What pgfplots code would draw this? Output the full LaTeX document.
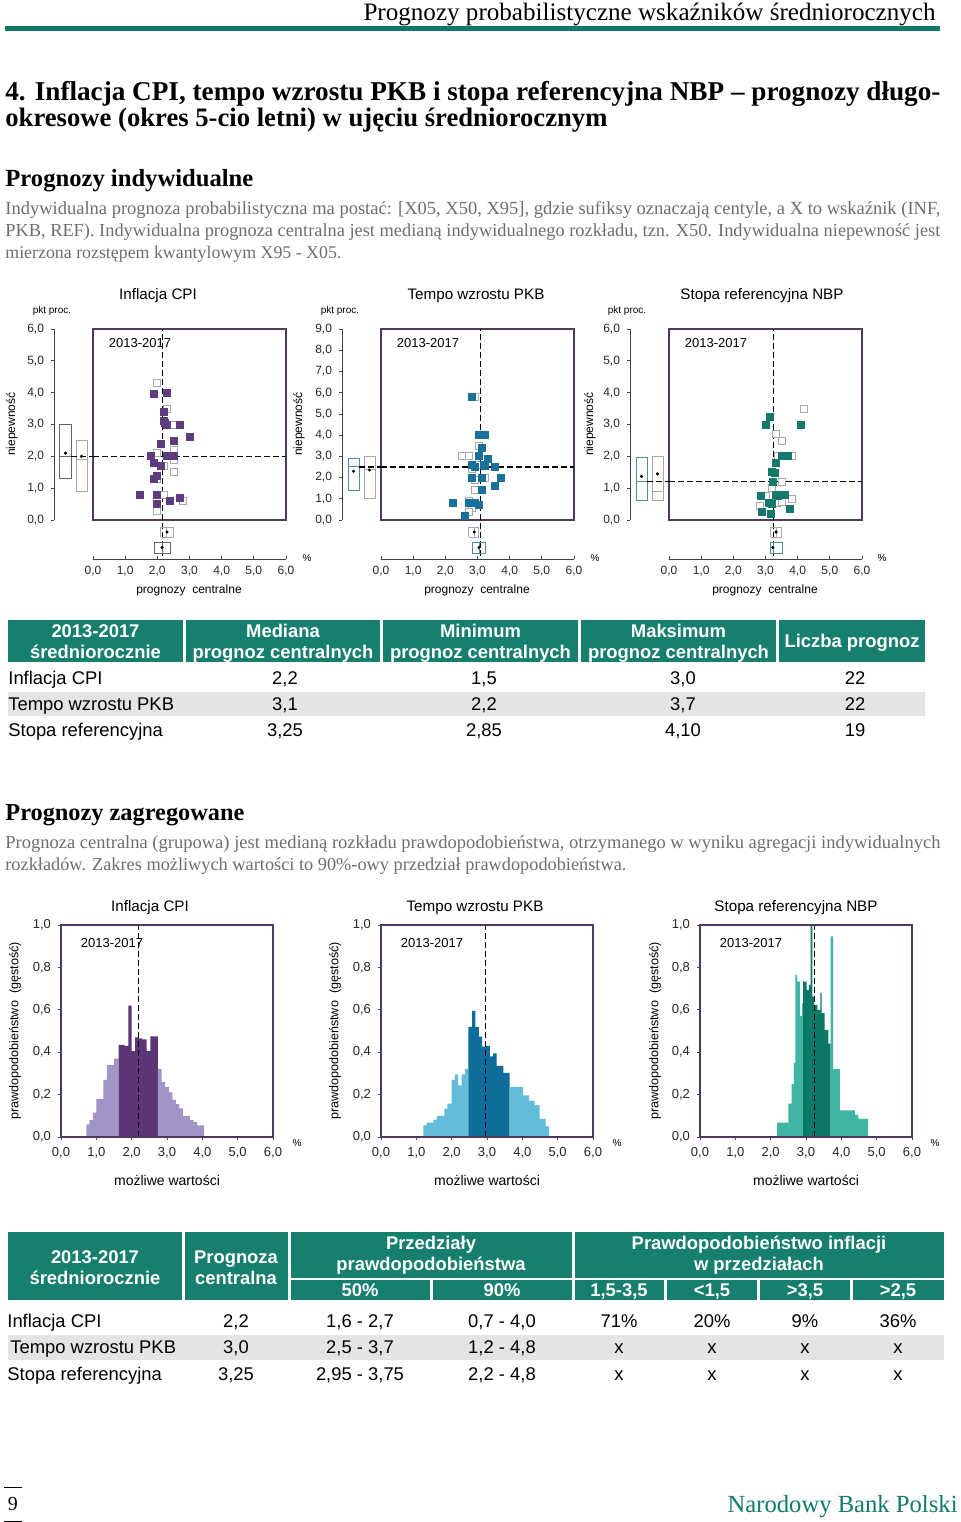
\documentclass[border=0pt]{standalone}
\usepackage{pgfplots}
\pgfplotsset{compat=1.18}
\usepackage{fontspec}
\usepackage{graphicx}
\setmainfont{Liberation Sans}
\newfontfamily\serif{Liberation Serif}
\newcommand\fs[1]{\fontsize{#1}{#1}\selectfont}

\definecolor{nbp}{HTML}{0F7A68}
\definecolor{hdr}{HTML}{167F6D}
\definecolor{rowgray}{HTML}{E4E4E4}
\definecolor{paragray}{HTML}{6E6E6E}
\definecolor{frame}{HTML}{4F3B5C}
\definecolor{cpiD}{HTML}{5C3677}
\definecolor{cpiL}{HTML}{A294C6}
\definecolor{pkbD}{HTML}{0E6D9A}
\definecolor{pkbL}{HTML}{63BDD8}
\definecolor{refD}{HTML}{0D7866}
\definecolor{refL}{HTML}{3FB6A1}
\definecolor{cpiS}{HTML}{5D3D7D}
\definecolor{pkbS}{HTML}{19709A}
\definecolor{refS}{HTML}{16796B}
\definecolor{cpiB}{HTML}{6A5E76}
\definecolor{pkbB}{HTML}{4C8DAA}
\definecolor{refB}{HTML}{4A9586}
\definecolor{openG}{HTML}{A8A8A8}

\pgfplotsset{
  numfmt/.style={/pgf/number format/fixed,/pgf/number format/fixed zerofill,
    /pgf/number format/precision=1,/pgf/number format/use comma,
    /pgf/number format/assume math mode=true},
  basebox/.style={scale only axis, anchor=south west, numfmt,
    tick style={black!70, line width=0.4pt}, major tick length=1.5pt,
    tick label style={font=\fs{6pt}, black!85}},
  scmain/.style={basebox, width=96.5pt, height=95.5pt, xmin=0, xmax=6, ymin=0, ymax=6,
    ticks=none, axis line style={frame, line width=0.75pt}},
  scleft/.style={basebox, width=19.5pt, height=95.5pt, xmin=0, xmax=39, ymin=0,
    hide x axis, axis y line=left, axis line style={-, black!75, line width=0.4pt},
    tick align=outside, clip=false},
  scbot/.style={basebox, width=96.5pt, height=19.5pt, xmin=0, xmax=6, ymin=0, ymax=39,
    hide y axis, axis x line=bottom, axis line style={-, black!75, line width=0.4pt},
    xtick={0,...,6}, tick align=inside, clip=false},
  hist/.style={basebox, width=106pt, height=106pt, xmin=0, xmax=6, ymin=0, ymax=1,
    xtick={0,...,6}, ytick={0,0.2,0.4,0.6,0.8,1}, tick pos=left, tick align=outside,
    axis line style={frame, line width=0.6pt}, axis on top,
    tick label style={font=\fs{6.5pt}}},
  open/.style={only marks, mark=square*, mark size=1.75pt,
    mark options={draw=openG, fill=white, line width=0.4pt}},
  filled/.style={only marks, mark=square*, mark size=1.75pt, mark options={draw=#1, fill=#1}},
  dash/.style={black, line width=0.55pt, dash pattern=on 3pt off 1.5pt},
  bxl/.style={draw=#1, line width=0.5pt, no marks},
  dot/.style={only marks, mark=*, mark size=0.55pt, black},
}

\begin{document}
\begin{tikzpicture}
\useasboundingbox (0,0) rectangle (480pt,-761pt);
\begin{scope}[x=0.5pt, y=-0.5pt, every node/.style={inner sep=0pt}]
  \fill[white] (0,0) rectangle (960,1522);
  % page header
  \node[anchor=base east] at (936,20) {\resizebox{286pt}{!}{\serif Prognozy probabilistyczne wskaźników średniorocznych}};
  \fill[nbp] (5,26) rectangle (940,31);
  \node[anchor=base west] at (5,100) {\resizebox{467.5pt}{!}{\serif\bfseries 4. Inflacja CPI, tempo wzrostu PKB i stopa referencyjna NBP – prognozy długo-}};
  \node[anchor=base west] at (5,126) {\resizebox{301pt}{!}{\serif\bfseries okresowe (okres 5-cio letni) w ujęciu średniorocznym}};
  \node[anchor=base west] at (5,186) {\resizebox{124pt}{!}{\serif\bfseries Prognozy indywidualne}};
  \node[anchor=base west, text=paragray] at (5,214) {\resizebox{467.5pt}{!}{\serif Indywidualna prognoza probabilistyczna ma postać: [X05, X50, X95], gdzie sufiksy oznaczają centyle, a X to wskaźnik (INF,}};
  \node[anchor=base west, text=paragray] at (5,236) {\resizebox{467.5pt}{!}{\serif PKB, REF). Indywidualna prognoza centralna jest medianą indywidualnego rozkładu, tzn. X50. Indywidualna niepewność jest}};
  \node[anchor=base west, text=paragray] at (5,258) {\resizebox{168pt}{!}{\serif mierzona rozstępem kwantylowym X95 - X05.}};

  % scatter chart texts
  \foreach \cx/\tt in {158/Inflacja CPI, 476/Tempo wzrostu PKB, 762/Stopa referencyjna NBP}
    \node[anchor=base, font=\fs{7.6pt}] at (\cx,299.5) {\tt};
  \foreach \cx in {52,340,627} \node[anchor=base, font=\fs{5pt}] at (\cx,313.6) {pkt proc.};
  \foreach \cx in {140,428,716} \node[anchor=base, font=\fs{6.5pt}] at (\cx,347.7) {2013-2017};
  \foreach \cx in {12,299,590} \node[rotate=90, font=\fs{6pt}] at (\cx,424) {niepewność};
  \foreach \cx in {307,595,882} \node[anchor=base, font=\fs{5pt}] at (\cx,561.6) {\%};
  \foreach \cx in {189,477,765} \node[anchor=base, font=\fs{6pt}] at (\cx,593.3) {prognozy\ \ centralne};

  % table 1
  \foreach \a/\b in {8/183,186/380,383/578,581/776,779/925} \fill[hdr] (\a,620) rectangle (\b,662);
  \fill[rowgray] (8,692) rectangle (925,716);
  \begin{scope}[every node/.style={inner sep=0pt, anchor=base, text=white, font=\fs{9.2pt}\bfseries}]
    \node at (95.5,637.5) {2013-2017}; \node at (95.5,658.5) {średniorocznie};
    \node at (283,637.5) {Mediana}; \node at (283,658.5) {prognoz centralnych};
    \node at (480.5,637.5) {Minimum}; \node at (480.5,658.5) {prognoz centralnych};
    \node at (678.5,637.5) {Maksimum}; \node at (678.5,658.5) {prognoz centralnych};
    \node at (852,647.5) {Liczba prognoz};
  \end{scope}
  \begin{scope}[every node/.style={inner sep=0pt, anchor=base, font=\fs{9.2pt}}]
    \node[anchor=base west] at (8,684.5) {Inflacja CPI};
    \node[anchor=base west] at (8,710.5) {Tempo wzrostu PKB};
    \node[anchor=base west] at (8,736.5) {Stopa referencyjna};
    \node at (285,684.5) {2,2}; \node at (484,684.5) {1,5}; \node at (683,684.5) {3,0}; \node at (855,684.5) {22};
    \node at (285,710.5) {3,1}; \node at (484,710.5) {2,2}; \node at (683,710.5) {3,7}; \node at (855,710.5) {22};
    \node at (285,736.5) {3,25}; \node at (484,736.5) {2,85}; \node at (683,736.5) {4,10}; \node at (855,736.5) {19};
  \end{scope}

  \node[anchor=base west] at (5,820) {\resizebox{119.5pt}{!}{\serif\bfseries Prognozy zagregowane}};
  \node[anchor=base west, text=paragray] at (5,848) {\resizebox{467.5pt}{!}{\serif Prognoza centralna (grupowa) jest medianą rozkładu prawdopodobieństwa, otrzymanego w wyniku agregacji indywidualnych}};
  \node[anchor=base west, text=paragray] at (5,870) {\resizebox{310.5pt}{!}{\serif rozkładów. Zakres możliwych wartości to 90\%-owy przedział prawdopodobieństwa.}};

  % histogram texts
  \foreach \cx/\tt in {150/Inflacja CPI, 475/Tempo wzrostu PKB, 796/Stopa referencyjna NBP}
    \node[anchor=base, font=\fs{7.6pt}] at (\cx,911.5) {\tt};
  \foreach \cx in {112,432,751} \node[anchor=base, font=\fs{6.5pt}] at (\cx,947.7) {2013-2017};
  \foreach \cx in {15,335,655} \node[rotate=90, font=\fs{6.3pt}] at (\cx,1031) {prawdopodobieństwo\ \ (gęstość)};
  \foreach \cx in {167,487,806} \node[anchor=base, font=\fs{7pt}] at (\cx,1185) {możliwe wartości};
  \foreach \cx in {297,617,935} \node[anchor=base, font=\fs{5pt}] at (\cx,1146.6) {\%};

  % table 2
  \fill[hdr] (8,1232) rectangle (182,1300);
  \fill[hdr] (185,1232) rectangle (288,1300);
  \fill[hdr] (291,1232) rectangle (572,1278);
  \fill[hdr] (575,1232) rectangle (944,1278);
  \foreach \a/\b in {291/430,433/572,575/664,667/757,760/850,853/944} \fill[hdr] (\a,1280) rectangle (\b,1300);
  \fill[rowgray] (8,1335) rectangle (944,1360);
  \begin{scope}[every node/.style={inner sep=0pt, anchor=base, text=white, font=\fs{9.2pt}\bfseries}]
    \node at (95,1263.5) {2013-2017}; \node at (95,1284.5) {średniorocznie};
    \node at (236,1263.5) {Prognoza}; \node at (236,1284.5) {centralna};
    \node at (431,1249.5) {Przedziały}; \node at (431,1270.5) {prawdopodobieństwa};
    \node at (759,1249.5) {Prawdopodobieństwo inflacji}; \node at (759,1270.5) {w przedziałach};
    \node at (360,1296.5) {50\%}; \node at (502,1296.5) {90\%};
    \node at (619,1296.5) {1,5-3,5}; \node at (712,1296.5) {<1,5};
    \node at (805,1296.5) {>3,5}; \node at (898,1296.5) {>2,5};
  \end{scope}
  \begin{scope}[every node/.style={inner sep=0pt, anchor=base, font=\fs{9.2pt}}]
    \node[anchor=base west] at (7,1327.5) {Inflacja CPI};
    \node[anchor=base west] at (10,1353.5) {Tempo wzrostu PKB};
    \node[anchor=base west] at (7,1380.5) {Stopa referencyjna};
    \node at (236,1327.5) {2,2}; \node at (360,1327.5) {1,6 - 2,7}; \node at (502,1327.5) {0,7 - 4,0};
    \node at (619,1327.5) {71\%}; \node at (712,1327.5) {20\%}; \node at (805,1327.5) {9\%}; \node at (898,1327.5) {36\%};
    \node at (236,1353.5) {3,0}; \node at (360,1353.5) {2,5 - 3,7}; \node at (502,1353.5) {1,2 - 4,8};
    \node at (236,1380.5) {3,25}; \node at (360,1380.5) {2,95 - 3,75}; \node at (502,1380.5) {2,2 - 4,8};
    \foreach \cx in {619,712,805,898} { \node at (\cx,1353.5) {x}; \node at (\cx,1380.5) {x}; }
  \end{scope}

  % footer
  \draw[black, line width=0.5pt] (4,1487) -- (22,1487) (4,1521) -- (22,1521);
  \node[anchor=base, font=\serif\fs{10pt}] at (13,1510) {9};
  \node[anchor=base east, text=nbp] at (958,1512) {\resizebox{115pt}{!}{\serif Narodowy Bank Polski}};

  % anchors of the axes
  \coordinate (m1) at (93,520); \coordinate (m2) at (381,520); \coordinate (m3) at (669,520);
  \coordinate (l1) at (54,520); \coordinate (l2) at (342,520); \coordinate (l3) at (630,520);
  \coordinate (b1) at (93,559); \coordinate (b2) at (381,559); \coordinate (b3) at (669,559);
  \coordinate (h1) at (61,1137); \coordinate (h2) at (381,1137); \coordinate (h3) at (700,1137);
\end{scope}

%%%%%%%%%%%%%%%% Inflacja CPI - individual
\begin{axis}[scmain, at={(m1)}]
  \addplot[dash] coordinates {(2.15,0) (2.15,6)};
  \addplot[dash] coordinates {(0,2) (6,2)};
  \addplot[open] table {
2.00 4.30
2.30 3.50
2.50 3.00
2.50 2.20
2.50 1.90
2.00 2.10
2.20 1.70
2.50 1.50
2.00 1.30
2.20 0.80
2.80 0.60
2.00 0.30
2.70 0.70
};
  \addplot[filled=cpiS] table {
1.89 3.95
2.31 4.00
2.20 3.40
2.20 3.10
2.30 3.00
2.70 3.00
3.00 2.60
2.50 2.50
2.10 2.40
1.80 2.00
2.30 2.00
2.50 2.00
1.90 1.80
2.10 1.70
2.00 1.40
1.90 1.30
1.47 0.80
2.00 0.80
2.70 0.70
2.40 0.60
2.00 0.50
2.25 3.05
};
\end{axis}
\begin{axis}[scleft, at={(l1)}, ymax=6, ytick={0,...,6}]
  \addplot[bxl=cpiB] coordinates {(6,1.3) (17,1.3) (17,3.0) (6,3.0) (6,1.3)};
  \addplot[bxl=cpiB] coordinates {(6,2.0) (17,2.0)};
  \addplot[bxl=openG] coordinates {(22,0.9) (33,0.9) (33,2.5) (22,2.5) (22,0.9)};
  \addplot[bxl=openG] coordinates {(22,1.9) (33,1.9)};
  \addplot[dot] coordinates {(11.5,2.1) (27.5,2.0)};
  \addplot[dash] coordinates {(17,2) (39,2)};
\end{axis}
\begin{axis}[scbot, at={(b1)}]
  \addplot[dash] coordinates {(2.15,3) (2.15,39)};
  \addplot[bxl=openG] coordinates {(2.1,22) (2.5,22) (2.5,32) (2.1,32) (2.1,22)};
  \addplot[bxl=openG] coordinates {(2.3,22) (2.3,32)};
  \addplot[bxl=cpiB] coordinates {(1.9,6) (2.4,6) (2.4,17) (1.9,17) (1.9,6)};
  \addplot[bxl=cpiB] coordinates {(2.15,6) (2.15,17)};
  \addplot[dot] coordinates {(2.3,27) (2.15,11.5)};
\end{axis}

%%%%%%%%%%%%%%%% Tempo wzrostu PKB - individual
\begin{axis}[scmain, at={(m2)}, ymax=9]
  \addplot[dash] coordinates {(3.08,0) (3.08,9)};
  \addplot[dash] coordinates {(0,2.5) (6,2.5)};
  \addplot[open] table {
2.93 5.80
3.03 3.50
2.52 3.00
2.72 3.00
2.83 2.40
3.22 2.00
2.93 1.90
2.93 1.40
2.72 0.90
2.83 0.55
2.72 0.40
3.00 2.60
};
  \addplot[filled=pkbS] table {
2.83 5.80
3.03 4.00
3.22 4.00
3.13 3.40
3.03 3.00
3.33 2.90
2.83 2.60
2.93 2.50
3.22 2.55
3.53 2.50
3.72 2.00
2.83 2.00
3.13 2.00
3.53 1.60
3.13 1.40
2.23 0.80
2.73 0.80
2.93 0.80
3.03 0.70
2.62 0.20
3.20 2.60
2.90 0.80
};
\end{axis}
\begin{axis}[scleft, at={(l2)}, ymax=9, ytick={0,...,9}]
  \addplot[bxl=pkbB] coordinates {(6,1.4) (17,1.4) (17,2.9) (6,2.9) (6,1.4)};
  \addplot[bxl=pkbB] coordinates {(6,2.5) (17,2.5)};
  \addplot[bxl=openG] coordinates {(22,1.0) (33,1.0) (33,3.0) (22,3.0) (22,1.0)};
  \addplot[bxl=openG] coordinates {(22,2.38) (33,2.38)};
  \addplot[dot] coordinates {(11.5,2.3) (27.5,2.36)};
  \addplot[dash] coordinates {(17,2.5) (39,2.5)};
\end{axis}
\begin{axis}[scbot, at={(b2)}]
  \addplot[dash] coordinates {(3.08,3) (3.08,39)};
  \addplot[bxl=openG] coordinates {(2.73,22) (3.03,22) (3.03,32) (2.73,32) (2.73,22)};
  \addplot[bxl=openG] coordinates {(2.9,22) (2.9,32)};
  \addplot[bxl=pkbB] coordinates {(2.84,6) (3.25,6) (3.25,17) (2.84,17) (2.84,6)};
  \addplot[bxl=pkbB] coordinates {(3.05,6) (3.05,17)};
  \addplot[dot] coordinates {(2.9,27) (3.05,11.5)};
\end{axis}

%%%%%%%%%%%%%%%% Stopa referencyjna NBP - individual
\begin{axis}[scmain, at={(m3)}]
  \addplot[dash] coordinates {(3.25,0) (3.25,6)};
  \addplot[dash] coordinates {(0,1.2) (6,1.2)};
  \addplot[open] table {
4.20 3.50
3.33 2.70
3.50 2.50
3.40 2.00
3.81 2.00
3.50 1.20
3.20 1.00
3.02 0.75
2.84 0.45
3.36 0.55
3.50 0.58
3.81 0.65
};
  \addplot[filled=refS] table {
3.14 3.24
3.02 3.00
4.10 3.00
3.33 1.80
3.50 2.00
3.70 2.00
3.20 1.50
3.29 1.49
3.22 1.20
3.33 0.80
3.50 0.80
3.60 0.80
2.87 0.75
3.10 0.55
3.20 0.50
3.75 0.35
2.90 0.25
3.16 0.20
3.40 0.75
};
\end{axis}
\begin{axis}[scleft, at={(l3)}, ymax=6, ytick={0,...,6}]
  \addplot[bxl=refB] coordinates {(6,0.62) (17,0.62) (17,1.95) (6,1.95) (6,0.62)};
  \addplot[bxl=refB] coordinates {(6,1.2) (17,1.2)};
  \addplot[bxl=openG] coordinates {(22,0.62) (33,0.62) (33,2.0) (22,2.0) (22,0.62)};
  \addplot[bxl=openG] coordinates {(22,0.9) (33,0.9)};
  \addplot[dot] coordinates {(11.5,1.37) (27.5,1.45)};
  \addplot[dash] coordinates {(17,1.2) (39,1.2)};
\end{axis}
\begin{axis}[scbot, at={(b3)}]
  \addplot[dash] coordinates {(3.25,3) (3.25,39)};
  \addplot[bxl=openG] coordinates {(3.17,22) (3.5,22) (3.5,32) (3.17,32) (3.17,22)};
  \addplot[bxl=openG] coordinates {(3.35,22) (3.35,32)};
  \addplot[bxl=refB] coordinates {(3.15,6) (3.53,6) (3.53,17) (3.15,17) (3.15,6)};
  \addplot[bxl=refB] coordinates {(3.25,6) (3.25,17)};
  \addplot[dot] coordinates {(3.33,27) (3.23,11.5)};
\end{axis}

%%%%%%%%%%%%%%%% aggregated histograms
\begin{axis}[hist, at={(h1)}]
  \addplot[fill=cpiL, draw=none, const plot mark left] coordinates {
    (0.72,0.06) (0.80,0.08) (0.90,0.115) (1.00,0.18) (1.20,0.27) (1.30,0.34)
    (1.50,0.37) (1.63,0.37)} \closedcycle;
  \addplot[fill=cpiD, draw=none, const plot mark left] coordinates {
    (1.63,0.435) (1.80,0.43) (1.91,0.62) (2.00,0.405) (2.10,0.47) (2.20,0.465)
    (2.30,0.46) (2.42,0.405) (2.53,0.475) (2.74,0.475)} \closedcycle;
  \addplot[fill=cpiL, draw=none, const plot mark left] coordinates {
    (2.74,0.32) (2.85,0.26) (2.95,0.235) (3.05,0.21) (3.15,0.175) (3.25,0.155)
    (3.35,0.135) (3.45,0.10) (3.65,0.08) (3.75,0.07) (3.85,0.055) (4.05,0.055)} \closedcycle;
  \addplot[dash] coordinates {(2.2,0) (2.2,1)};
\end{axis}
\begin{axis}[hist, at={(h2)}]
  \addplot[fill=pkbL, draw=none, const plot mark left] coordinates {
    (1.20,0.055) (1.29,0.068) (1.48,0.082) (1.59,0.10) (1.79,0.134) (1.88,0.158)
    (2.00,0.27) (2.09,0.295) (2.18,0.243) (2.28,0.295) (2.38,0.32) (2.47,0.32)} \closedcycle;
  \addplot[fill=pkbD, draw=none, const plot mark left] coordinates {
    (2.47,0.52) (2.58,0.595) (2.67,0.52) (2.77,0.473) (2.86,0.426) (2.96,0.43)
    (3.08,0.38) (3.17,0.394) (3.27,0.335) (3.46,0.303) (3.64,0.303)} \closedcycle;
  \addplot[fill=pkbL, draw=none, const plot mark left] coordinates {
    (3.64,0.237) (4.02,0.197) (4.19,0.17) (4.35,0.15) (4.49,0.085) (4.66,0.05) (4.76,0.05)} \closedcycle;
  \addplot[dash] coordinates {(2.97,0) (2.97,1)};
\end{axis}
\begin{axis}[hist, at={(h3)}]
  \addplot[fill=refL, draw=none, const plot mark left] coordinates {
    (2.18,0.068) (2.50,0.158) (2.59,0.25) (2.66,0.35) (2.70,0.765) (2.75,0.733)
    (2.83,0.57) (2.89,0.63) (2.92,0.63)} \closedcycle;
  \addplot[fill=refD, draw=none, const plot mark left] coordinates {
    (2.92,0.733) (3.02,0.694) (3.08,0.718) (3.13,1.05) (3.18,0.662) (3.23,0.623)
    (3.32,0.60) (3.41,0.68) (3.44,0.584) (3.53,0.505) (3.63,0.44) (3.70,0.44)} \closedcycle;
  \addplot[fill=refL, draw=none, const plot mark left] coordinates {
    (3.70,0.946) (3.77,0.32) (3.96,0.126) (4.38,0.105) (4.48,0.085) (4.76,0.085)} \closedcycle;
  \addplot[dash] coordinates {(3.25,0) (3.25,1)};
\end{axis}
\end{tikzpicture}
\end{document}
